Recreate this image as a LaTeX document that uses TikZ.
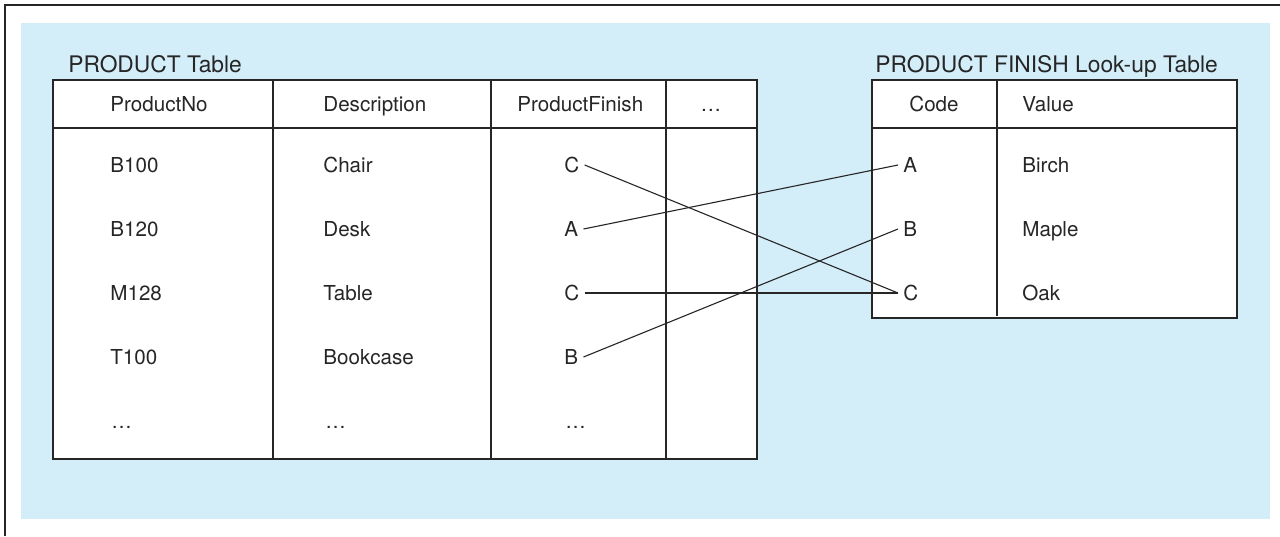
\documentclass[tikz,border=0pt]{standalone}
\usepackage{fontspec}
\setmainfont{TeX Gyre Heros}
\usetikzlibrary{positioning}
\definecolor{pbg}{HTML}{D3EDF9}
\definecolor{pline}{HTML}{262626}
\tikzset{
  % table rules and the cell texts
  grid/.style  = {draw=pline, line width=0.75pt},
  cell/.style  = {font=\fontsize{10.3}{12}\selectfont, text=pline, inner sep=0pt,
                  text height=7.4pt, text depth=0pt},
  ttl/.style   = {font=\fontsize{11.4}{13}\selectfont, text=pline, inner sep=0pt,
                  anchor=base west},
  code/.style  = {cell, inner sep=2.5pt, anchor=west},
  link/.style  = {draw=pline, line width=0.55pt},
}

\begin{document}
\begin{tikzpicture}[x=0.5pt,y=-0.5pt]
\useasboundingbox (0,0) rectangle (1280,536);
% frame and panel
\draw[pline, line width=1.4pt] (5,536) -- (5,5) -- (1280,5);
\fill[pbg] (21,23) rectangle (1270,519);
% product table
\filldraw[grid, fill=white] (53,80) rectangle (757,459);
\draw[grid] (53,128) -- (757,128);
\foreach \x in {273,491,666}
  {\draw[grid] (\x,80) -- (\x,459);}
\node[ttl] (ptitle) at (68,72) {PRODUCT Table};
\node[cell, anchor=west] (hno) at (110,104) {ProductNo};
\node[cell, anchor=west] (hdesc) at (323,104) {Description};
\node[cell, anchor=west] (hfin) at (517,104) {ProductFinish};
\node[cell] (hmore) at (711,104) {\dots};
\foreach \no/\desc/\fin [count=\i] in {B100/Chair/C,B120/Desk/A,M128/Table/C,T100/Bookcase/B}
  {\node[cell, anchor=west] (no\i) at (110,101+64*\i) {\no};
   \node[cell, anchor=west] (desc\i) at (323,101+64*\i) {\desc};
   \node[code] (f\i) at (559,101+64*\i) {\fin};}
\node[cell, anchor=west] (no5) at (111,421) {\dots};
\node[cell, anchor=west] (desc5) at (325,421) {\dots};
\node[cell, anchor=west] (f5) at (565,421) {\dots};
% look-up table
\filldraw[grid, fill=white] (872,80) rectangle (1237,318);
\draw[grid] (872,128) -- (1237,128);
\draw[grid] (997,80) -- (997,316);
\node[ttl] (ltitle) at (875,72) {PRODUCT FINISH Look-up Table};
\node[cell] (hcode) at (934,104) {Code};
\node[cell, anchor=west] (hval) at (1022,104) {Value};
\foreach \c/\val [count=\i] in {A/Birch,B/Maple,C/Oak}
  {\node[code] (c\c) at (898,101+64*\i) {\c};
   \node[cell, anchor=west] (val\i) at (1022,101+64*\i) {\val};}
% links
\draw[link] (f1.east) -- (cC.west);
\draw[link] (f2.east) -- (cA.west);
\draw[link] (f3.east) -- (cC.west);
\draw[link] (f4.east) -- (cB.west);
\end{tikzpicture}
\end{document}
